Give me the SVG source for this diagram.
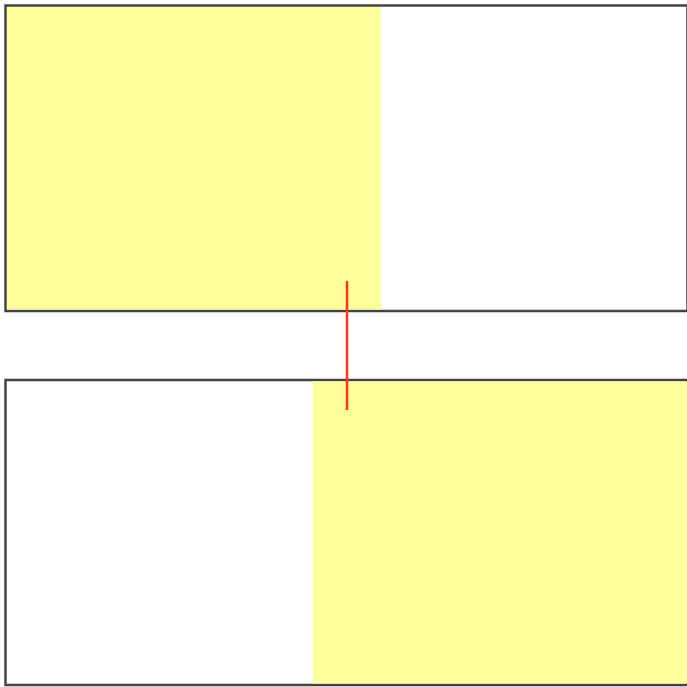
<svg xmlns="http://www.w3.org/2000/svg" width="687" height="687" viewBox="0 0 687 687">
<style>
.box{fill:#ffffff;stroke:#444444;stroke-width:2.5}
.hl{fill:#fdfd99}
.conn{stroke:#ff3322;stroke-width:2.5;fill:none}
</style>
<rect width="687" height="687" fill="#ffffff"/>
<g id="top">
<rect class="box" x="5.5" y="5.5" width="682" height="305.5"/>
<rect class="hl" x="7" y="7" width="374" height="302.5"/>
</g>
<g id="bottom">
<rect class="box" x="5.5" y="380" width="682" height="305"/>
<rect class="hl" x="313" y="381.5" width="374" height="302"/>
</g>
<g id="connectors">
<line class="conn" x1="347" y1="281" x2="347" y2="410"/>
</g>
</svg>
